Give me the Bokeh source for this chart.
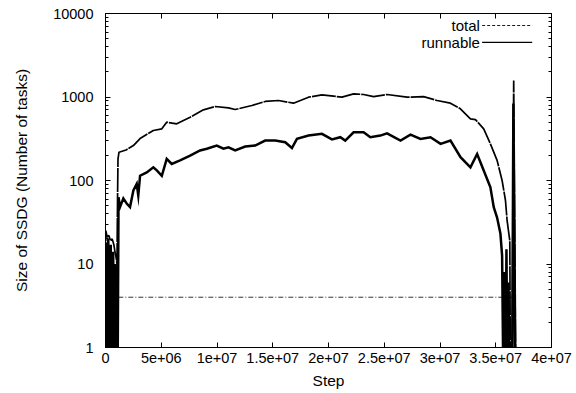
import numpy as np
from bokeh.plotting import figure
from bokeh.models import (Range1d, FixedTicker, LinearAxis, LogAxis, Label, Arrow)
from bokeh.embed import file_html
from bokeh.resources import INLINE

# --- data: SSDG size per simulation step -----------------------------------
total_step = [0, 0.03e6, 0.15e6, 0.3e6, 0.45e6, 0.6e6, 0.75e6, 0.85e6, 0.95e6,
              1.03e6, 1.08e6, 1.12e6, 1.21e6, 1.84e6, 2.50e6, 3.10e6, 4.29e6,
              5.05e6, 5.49e6, 6.39e6, 7.59e6, 8.78e6, 9.83e6, 11.03e6, 11.63e6,
              13.13e6, 14.32e6, 15.52e6, 16.86e6, 18.21e6, 19.41e6, 21.21e6,
              22.25e6, 23.15e6, 24.04e6, 25.25e6, 27.04e6, 28.53e6, 29.74e6,
              30.93e6, 31.83e6, 32.73e6, 33.18e6, 33.92e6, 34.52e6, 35.12e6,
              35.57e6, 35.87e6, 36.02e6, 36.26e6, 36.32e6, 36.45e6, 36.61e6,
              36.81e6, 36.95e6]
total_size = [0, 25, 21, 22, 19, 20, 17, 14, 12,
              10, 60, 180, 218, 232, 262, 318, 397,
              416, 499, 477, 573, 702, 769, 742, 708,
              791, 884, 908, 843, 995, 1062, 995,
              1091, 1072, 1010, 1072, 995, 1010, 908,
              843, 722, 548, 535, 416, 275, 174,
              100, 58, 33, 19, 0, 0, 1578,
              0, 0]

runnable_step = [0, 0.04e6, 0.09e6, 0.14e6, 0.2e6, 0.25e6, 0.31e6, 0.36e6,
                 0.42e6, 0.47e6, 0.53e6, 0.58e6, 0.64e6, 0.69e6, 0.75e6,
                 0.8e6, 0.86e6, 0.91e6, 0.97e6, 1.02e6, 1.08e6,
                 1.17e6, 1.30e6, 1.60e6, 1.90e6, 2.20e6, 2.50e6, 2.80e6,
                 2.94e6, 3.10e6, 3.70e6, 4.29e6, 4.60e6, 5.05e6, 5.49e6,
                 5.94e6, 6.69e6, 7.59e6, 8.48e6, 9.09e6, 9.98e6, 10.58e6,
                 11.03e6, 11.63e6, 12.53e6, 13.42e6, 14.32e6, 15.22e6,
                 16.12e6, 16.72e6, 17.17e6, 18.21e6, 19.41e6, 20.31e6,
                 21.06e6, 21.50e6, 22.25e6, 23.15e6, 23.75e6, 24.65e6,
                 25.25e6, 26.46e6, 27.35e6, 28.25e6, 29.15e6, 30.05e6,
                 30.94e6, 31.84e6, 32.73e6, 33.33e6, 33.92e6, 34.52e6,
                 34.82e6, 35.12e6, 35.42e6, 35.57e6, 35.69e6, 35.78e6,
                 35.87e6, 35.96e6, 36.05e6, 36.14e6, 36.23e6, 36.32e6,
                 36.47e6, 36.58e6, 36.76e6, 36.95e6]
runnable_size = [0, 18, 0, 16, 0, 20, 0, 12, 0, 17, 0, 9, 0, 14, 0,
                 6, 0, 10, 0, 4, 0,
                 63, 48, 61, 53, 48, 76, 91,
                 66, 114, 125, 144, 132, 114, 182,
                 158, 174, 198, 229, 240, 262, 240,
                 250, 229, 255, 262, 301, 301,
                 287, 245, 315, 345, 362, 311,
                 330, 301, 378, 378, 330, 345,
                 367, 301, 354, 315, 330, 275,
                 301, 190, 144, 208, 132, 83,
                 48, 36, 23, 12.6, 0, 8,
                 0, 15, 0, 6, 0, 0,
                 0, 835, 0, 0]

# constant reference level drawn dash-dotted
level_step = [1.15e6, 36.6e6]
level_size = [4, 4]

step_ticks = [0, 5e6, 1e7, 1.5e7, 2e7, 2.5e7, 3e7, 3.5e7, 4e7]
step_labels = ["0", "5e+06", "1e+07", "1.5e+07", "2e+07", "2.5e+07",
               "3e+07", "3.5e+07", "4e+07"]
size_ticks = [1, 10, 100, 1000, 10000]
size_labels = ["1", "10", "100", "1000", "10000"]

FONT = "Liberation Sans"

# zero counts fall below the log axis: send them under the frame
def floor_zero(v):
    return np.maximum(np.asarray(v, dtype=float), 0.3)

p = figure(width=576, height=393, y_axis_type="log",
           x_range=Range1d(0, 4e7), y_range=Range1d(1, 10000),
           output_backend="svg", toolbar_location=None,
           min_border_left=105, min_border_right=25,
           min_border_top=13, min_border_bottom=46)
p.background_fill_color = "white"
p.border_fill_color = "white"
p.outline_line_color = "black"
p.outline_line_width = 1
p.xgrid.visible = False
p.ygrid.visible = False

minor = [m * d for d in [1, 10, 100, 1000] for m in range(2, 10)]

# bottom / left axes
xa = p.xaxis[0]
xa.ticker = FixedTicker(ticks=step_ticks)
xa.major_label_overrides = {t: s for t, s in zip(step_ticks, step_labels)}
ya = p.yaxis[0]
ya.ticker = FixedTicker(ticks=size_ticks, minor_ticks=minor)
ya.major_label_overrides = {t: s for t, s in zip(size_ticks, size_labels)}
xa.axis_label = "Step"
ya.axis_label = "Size of SSDG (Number of tasks)"

# mirrored axes on top / right (ticks only, blank labels)
top = LinearAxis(ticker=FixedTicker(ticks=step_ticks))
top.major_label_overrides = {t: "" for t in step_ticks}
right = LogAxis(ticker=FixedTicker(ticks=size_ticks, minor_ticks=minor))
right.major_label_overrides = {t: "" for t in size_ticks}
for ax in (top, right):
    ax.major_label_standoff = 0
p.add_layout(top, "above")
p.add_layout(right, "right")

for ax in (xa, ya, top, right):
    ax.axis_line_color = "black"
    ax.major_tick_in = 5
    ax.major_tick_out = 0
    ax.minor_tick_in = 3
    ax.minor_tick_out = 0
    ax.major_tick_line_color = "black"
    ax.minor_tick_line_color = "black"
for ax in (xa, top):
    ax.minor_tick_line_color = None

for ax in (xa, ya):
    ax.major_label_text_font = FONT
    ax.major_label_text_font_size = "14.5px"
    ax.major_label_text_color = "black"
    ax.axis_label_text_font = FONT
    ax.axis_label_text_font_size = "15.5px"
    ax.axis_label_text_font_style = "normal"
    ax.axis_label_text_color = "black"
xa.major_label_standoff = 5
xa.axis_label_standoff = 6
ya.major_label_standoff = 12
ya.axis_label_standoff = 20

# series (the dense total trace reads as an almost unbroken line)
p.line(level_step, level_size, line_color="black", line_width=0.8,
       line_dash="5 2 1 2")
p.line(runnable_step, floor_zero(runnable_size), line_color="black",
       line_width=2.5, line_join="miter")
p.line(total_step, floor_zero(total_size), line_color="black",
       line_width=1.7, line_dash="24 1")

# key: text followed by a line sample, as in gnuplot
key_text_x = 3.358e7
key_line = (3.378e7, 3.827e7)
for name, ky, dash, lw in [("total", 7180, "3 2", 0.9),
                           ("runnable", 4500, "solid", 1.2)]:
    p.add_layout(Label(x=key_text_x, y=ky, text=name, text_align="right",
                       text_baseline="middle", text_font=FONT,
                       text_font_size="15px", text_color="black"))
    p.add_layout(Arrow(start=None, end=None, x_start=key_line[0], y_start=ky,
                       x_end=key_line[1], y_end=ky, line_color="black",
                       line_width=lw, line_dash=dash))

open("out.html", "w").write(file_html(p, INLINE))
